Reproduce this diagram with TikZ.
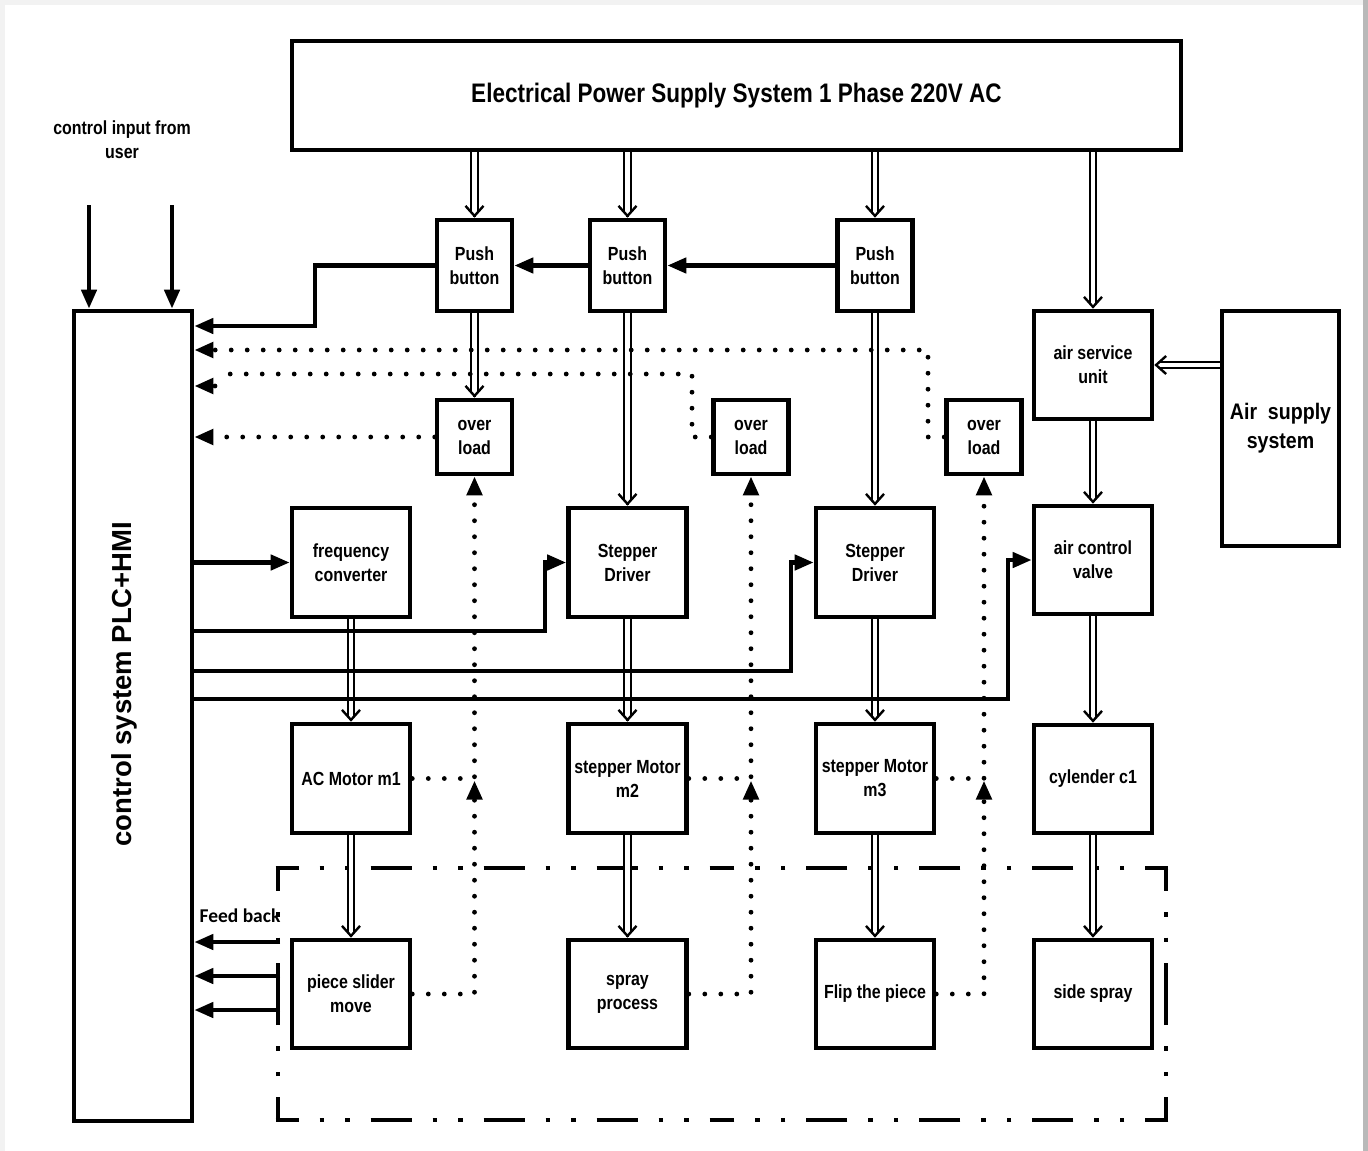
\documentclass[tikz,border=0pt]{standalone}
\usepackage{fontspec}
\setmainfont{Liberation Sans}
\newfontfamily\narrowb[FakeStretch=0.84]{Liberation Sans Bold}
\newfontfamily\airb[FakeStretch=0.87]{Liberation Sans Bold}
\newfontfamily\wideb{Liberation Sans Bold}
\newfontfamily\fbfont{Carlito Bold}
\usetikzlibrary{arrows.meta,calc}

\tikzset{
  blk/.style={draw, line width=4.6pt, inner sep=0pt, align=center,
    font=\narrowb\fontsize{19}{24}\selectfont},
  sz/.style 2 args={minimum width=#1, minimum height=#2},
  ctl/.style={line width=4.4pt, -{Triangle[length=19pt,width=15pt]}},
  sig/.style={line width=4.8pt, line cap=round, dash pattern=on 0pt off 16pt},
  sigarrow/.style={sig, -{Triangle[length=19pt,width=15pt]}},
  pwr/.style={line width=2.1pt, double=white, double distance=4.2pt},
  pwrtip/.style={line width=2.4pt, -{Straight Barb[length=10pt,width=18pt]}},
  frm/.style={line width=4.6pt, dash pattern=on 41pt off 21pt on 4.5pt off 21pt on 4.5pt off 21pt, dash phase=18pt},
}

% double power line ending in an open chevron
\newcommand\pwrarrow[2]{%
  \draw[pwr] (#1) -- ($(#2)!6pt!(#1)$);
  \draw[pwrtip] ($(#2)!0.5pt!(#1)$) -- (#2);
}

\begin{document}
\begin{tikzpicture}[x=1pt,y=-1pt]
\useasboundingbox (0,0) rectangle (1368,1151);
\fill[white] (0,0) rectangle (1368,1151);
\fill[gray!10] (0,0) rectangle (1368,5);
\fill[gray!10] (0,0) rectangle (5,1151);
\fill[gray!55] (1363,0) rectangle (1368,1151);

% ---------- blocks ----------
\node[blk, sz={889}{109}, font=\narrowb\fontsize{26.8}{32}\selectfont] (sup) at (736.5,95.5)
  {Electrical Power Supply System 1 Phase 220V AC};
\node[blk, sz={118}{810}] (plc) at (133,716) {};
\node[rotate=90, font=\wideb\fontsize{27.5}{32}\selectfont] (plctext) at (124,684) {control system PLC+HMI};

\node[blk, sz={75}{91}] (pb1) at (474.5,265.5) {Push\\button};
\node[blk, sz={75}{91}] (pb2) at (627.5,265.5) {Push\\button};
\node[blk, sz={75}{91}] (pb3) at (875,265.5) {Push\\button};

\node[blk, sz={75}{74}] (ol1) at (474.5,437) {over\\load};
\node[blk, sz={75}{74}] (ol2) at (751,437) {over\\load};
\node[blk, sz={75}{74}] (ol3) at (984,437) {over\\load};

\node[blk, sz={118}{108}] (asu) at (1093,365) {air service\\unit};
\node[blk, sz={118}{108}] (acv) at (1093,560) {air control\\valve};
\node[blk, sz={118}{108}] (cyl) at (1093,779) {cylender c1};
\node[blk, sz={118}{108}] (ssp) at (1093,994) {side spray};

\node[blk, sz={117}{235}, font=\airb\fontsize{22.5}{29}\selectfont] (airs) at (1280.5,428.5) {Air\ \ supply\\system};

\node[blk, sz={118}{109}] (fc)  at (351,562.5)   {frequency\\converter};
\node[blk, sz={118}{109}] (sd1) at (627.5,562.5) {Stepper\\Driver};
\node[blk, sz={118}{109}] (sd2) at (875,562.5)   {Stepper\\Driver};

\node[blk, sz={118}{109}] (m1) at (351,778.5)   {AC Motor m1};
\node[blk, sz={118}{109}] (m2) at (627.5,778.5) {stepper Motor\\m2};
\node[blk, sz={118}{109}] (m3) at (875,778.5)   {stepper Motor\\m3};

\node[blk, sz={118}{108}] (psm) at (351,994)   {piece slider\\move};
\node[blk, sz={118}{108}] (spp) at (627.5,994) {spray\\process};
\node[blk, sz={118}{108}] (flp) at (875,994)   {Flip the piece};

\node[font=\narrowb\fontsize{19}{24}\selectfont, align=center] (usr) at (122,140) {control input from\\user};
\node[font=\fbfont\fontsize{19.5}{24}\selectfont] (fbl) at (240,916) {Feed back};

% ---------- process frame (dash-dot) ----------
\coordinate (F1) at (278,868);
\coordinate (F2) at (1166,868);
\coordinate (F3) at (1166,1120);
\coordinate (F4) at (278,1120);
\coordinate (Ftm) at (722,868);
\coordinate (Fbm) at (722,1120);
\coordinate (Flm) at (278,994);
\coordinate (Frm) at (1166,994);
\draw[frm] ($(F1)+(-2.3,0)$) -- (Ftm);
\draw[frm] ($(F2)+(2.3,0)$) -- (Ftm);
\draw[frm] ($(F4)+(-2.3,0)$) -- (Fbm);
\draw[frm] ($(F3)+(2.3,0)$) -- (Fbm);
\draw[frm] (F1) -- (Flm);
\draw[frm] (F4) -- (Flm);
\draw[frm] (F2) -- (Frm);
\draw[frm] (F3) -- (Frm);

% ---------- power lines ----------
\pwrarrow{pb1.north |- sup.south}{pb1.north}
\pwrarrow{pb2.north |- sup.south}{pb2.north}
\pwrarrow{pb3.north |- sup.south}{pb3.north}
\pwrarrow{asu.north |- sup.south}{asu.north}
\pwrarrow{pb1.south}{ol1.north}
\pwrarrow{pb2.south}{sd1.north}
\pwrarrow{pb3.south}{sd2.north}
\pwrarrow{airs.west |- asu.east}{asu.east}
\pwrarrow{asu.south}{acv.north}
\pwrarrow{acv.south}{cyl.north}
\pwrarrow{cyl.south}{ssp.north}
\pwrarrow{fc.south}{m1.north}
\pwrarrow{sd1.south}{m2.north}
\pwrarrow{sd2.south}{m3.north}
\pwrarrow{m1.south}{psm.north}
\pwrarrow{m2.south}{spp.north}
\pwrarrow{m3.south}{flp.north}

% ---------- control lines ----------
\coordinate (u1) at (89,205);
\coordinate (u2) at (172,205);
\draw[ctl] (u1) -- (u1 |- plc.north);
\draw[ctl] (u2) -- (u2 |- plc.north);

\draw[ctl] (pb3.west) -- (pb2.east);
\draw[ctl] (pb2.west) -- (pb1.east);
\coordinate (k0) at (315,326);
\draw[ctl] (pb1.west) -| (k0) -- (plc.east |- k0);

\draw[ctl] (plc.east |- fc.west) -- (fc.west);
\coordinate (k1) at (545,631);
\coordinate (k2) at (791,671);
\coordinate (k3) at (1008,699);
\draw[ctl] (plc.east |- k1) -- (k1) |- (sd1.west);
\draw[ctl] (plc.east |- k2) -- (k2) |- (sd2.west);
\draw[ctl] (plc.east |- k3) -- (k3) |- (acv.west);

% feedback from the process frame
\coordinate (fb1) at (280,942);
\coordinate (fb2) at (280,976);
\coordinate (fb3) at (280,1010);
\draw[ctl] (fb1) -- (plc.east |- fb1);
\draw[ctl] (fb2) -- (plc.east |- fb2);
\draw[ctl] (fb3) -- (plc.east |- fb3);

% ---------- overload / status signals (dotted) ----------
\coordinate (d3) at (928,350);
\draw[sigarrow] (ol3.west) -| (d3) -- (plc.east |- d3);
\coordinate (d2) at (692,374);
\coordinate (d2a) at (221,374);
\coordinate (d2b) at (215,386);
\draw[sigarrow] (ol2.west) -| (d2) -- (d2a) (d2b) -- (plc.east |- d2b);
\draw[sigarrow] (ol1.west) -- (plc.east |- ol1.west);

\draw[sigarrow] (m1.east) -- (m1.east -| ol1.south) -- (ol1.south);
\draw[sigarrow] (m2.east) -- (m2.east -| ol2.south) -- (ol2.south);
\draw[sigarrow] (m3.east) -- (m3.east -| ol3.south) -- (ol3.south);

\draw[sigarrow] (psm.east) -- (psm.east -| ol1.south) -- ($(m1.east -| ol1.south)+(0,2)$);
\draw[sigarrow] (spp.east) -- (spp.east -| ol2.south) -- ($(m2.east -| ol2.south)+(0,2)$);
\draw[sigarrow] (flp.east) -- (flp.east -| ol3.south) -- ($(m3.east -| ol3.south)+(0,2)$);

\end{tikzpicture}
\end{document}
